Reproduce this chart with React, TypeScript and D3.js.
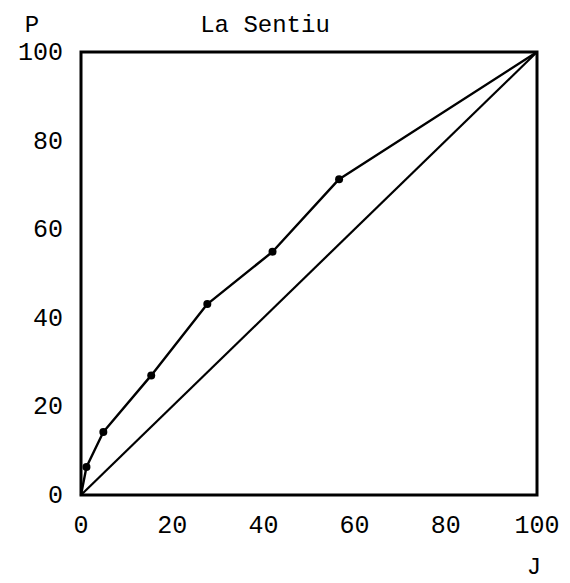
import React from "react";
import * as d3 from "d3";

// Cumulative shares: J on the horizontal axis, P on the vertical axis
const jValues = [0, 1.2, 4.9, 15.4, 27.7, 42.0, 56.6, 100];
const pValues = [0, 6.3, 14.2, 27.0, 43.1, 54.9, 71.3, 100];
const equalityLine = [0, 100];
const xTickValues = [0, 20, 40, 60, 80, 100];
const yTickValues = [0, 20, 40, 60, 80, 100];
const title = "La Sentiu";
const xAxisLabel = "J";
const yAxisLabel = "P";

const W = 570;
const H = 583;
const margin = { left: 81, right: 33, top: 52, bottom: 88 };
const FONT = "'Liberation Mono', 'DejaVu Sans Mono', monospace";

export default function App() {
  const x = d3.scaleLinear().domain([0, 100]).range([margin.left, W - margin.right]);
  const y = d3.scaleLinear().domain([0, 100]).range([H - margin.bottom, margin.top]);

  const curvePoints: [number, number][] = jValues.map((j, i) => [j, pValues[i]]);
  const line = d3
    .line<[number, number]>()
    .x((d) => x(d[0]))
    .y((d) => y(d[1]));
  const diag: [number, number][] = equalityLine.map((v) => [v, v]);

  return (
    <svg
      width={W}
      height={H}
      style={{ position: "absolute", left: 0, top: 0, background: "#fff" }}
      fontFamily={FONT}
    >
      <rect x={0} y={0} width={W} height={H} fill="#fff" />
      {/* frame */}
      <rect
        x={x(0)}
        y={y(100)}
        width={x(100) - x(0)}
        height={y(0) - y(100)}
        fill="none"
        stroke="#000"
        strokeWidth={3}
      />
      {/* line of equality */}
      <path d={line(diag) || ""} fill="none" stroke="#000" strokeWidth={2.2} />
      {/* concentration curve */}
      <path d={line(curvePoints) || ""} fill="none" stroke="#000" strokeWidth={2.4} strokeLinejoin="round" />
      {curvePoints.slice(1, -1).map((d, i) => (
        <circle key={i} cx={x(d[0])} cy={y(d[1])} r={4} fill="#000" />
      ))}
      {/* x tick labels */}
      {xTickValues.map((t) => (
        <text key={"x" + t} x={x(t)} y={533} textAnchor="middle" fontSize={25} fill="#000">
          {t}
        </text>
      ))}
      {/* y tick labels */}
      {yTickValues.map((t) => (
        <text
          key={"y" + t}
          x={63}
          y={y(t) + 8}
          textAnchor="end"
          fontSize={25}
          fill="#000"
        >
          {t}
        </text>
      ))}
      <text x={265} y={32} textAnchor="middle" fontSize={24} fill="#000">
        {title}
      </text>
      <text x={32} y={32} textAnchor="middle" fontSize={24} fill="#000">
        {yAxisLabel}
      </text>
      <text x={534} y={574} textAnchor="middle" fontSize={24} fill="#000">
        {xAxisLabel}
      </text>
    </svg>
  );
}
